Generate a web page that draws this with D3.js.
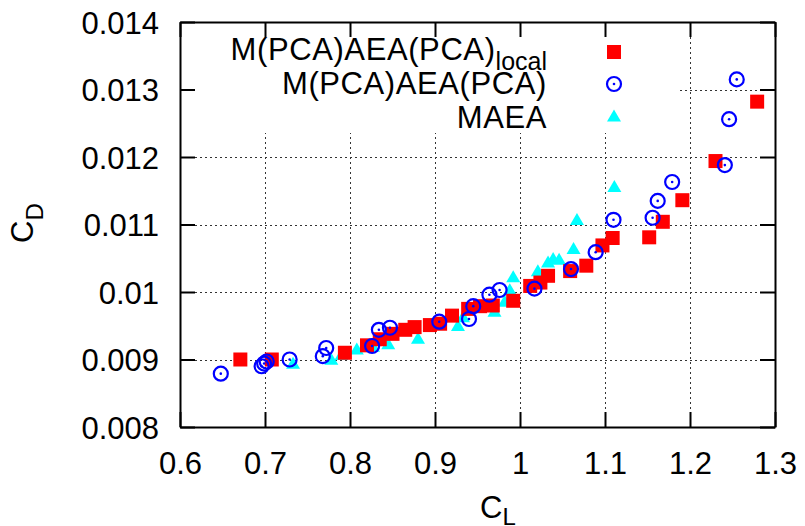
<!DOCTYPE html>
<html>
  <head>
  <title>CD vs CL</title>
  <style>
    body, html {
      margin: 0;
      padding: 0;
      background: #fff;
    }
    svg text {
      font-family: "Liberation Sans", Arial, sans-serif;
      fill: #000;
    }
  </style>
  </head>
  <body>

  <svg id="svg" width="805" height="526"></svg>

  <script src="https://d3js.org/d3.v7.min.js"></script>
  <script>
    // M(PCA)AEA(PCA)_local  (red squares)
    const localCL = [0.671, 0.708, 0.794, 0.820, 0.835, 0.850, 0.865, 0.876, 0.894, 0.906, 0.920, 0.939, 0.953, 0.968, 0.992,
      1.012, 1.024, 1.033, 1.059, 1.078, 1.097, 1.109, 1.152, 1.168, 1.191, 1.230, 1.279]
    const localCD = [0.00900, 0.00900, 0.00910, 0.00921, 0.00930, 0.00938, 0.00944, 0.00948, 0.00951, 0.00953, 0.00965, 0.00975, 0.00979, 0.00980, 0.00987,
      0.01009, 0.01014, 0.01024, 0.01031, 0.01039, 0.01069, 0.01080, 0.01081, 0.01104, 0.01136, 0.01194, 0.01282]

    // M(PCA)AEA(PCA)  (blue circles)
    const pcaCL = [0.648, 0.696, 0.699, 0.702, 0.729, 0.768, 0.772, 0.826, 0.834, 0.847, 0.905, 0.940, 0.945, 0.964, 0.976,
      1.017, 1.060, 1.089, 1.110, 1.156, 1.162, 1.179, 1.241, 1.246, 1.255]
    const pcaCD = [0.00879, 0.00890, 0.00894, 0.00897, 0.00900, 0.00905, 0.00917, 0.00920, 0.00944, 0.00947, 0.00956, 0.00960, 0.00979, 0.00996, 0.01003,
      0.01005, 0.01034, 0.01059, 0.01107, 0.01110, 0.01135, 0.01163, 0.01188, 0.01256, 0.01315]

    // MAEA  (cyan triangles)
    const maeaCL = [0.733, 0.778, 0.790, 0.808, 0.827, 0.845, 0.880, 0.894, 0.927, 0.933, 0.970, 0.982, 0.988, 0.992,
      1.021, 1.033, 1.039, 1.046, 1.063, 1.067, 1.111]
    const maeaCD = [0.00893, 0.00899, 0.00906, 0.00914, 0.00918, 0.00922, 0.00930, 0.00949, 0.00949, 0.00962, 0.00970, 0.00985, 0.01002, 0.01021,
      0.01030, 0.01043, 0.01048, 0.01047, 0.01063, 0.01106, 0.01155]

    const xTicks = [0.6, 0.7, 0.8, 0.9, 1.0, 1.1, 1.2, 1.3]
    const yTicks = [0.008, 0.009, 0.010, 0.011, 0.012, 0.013, 0.014]
    const seriesNames = ['M(PCA)AEA(PCA)', 'M(PCA)AEA(PCA)', 'MAEA']

    const margin = { top: 22, right: 30, bottom: 99, left: 180 }
    const width = 805 - margin.left - margin.right
    const height = 526 - margin.top - margin.bottom

    const xscale = d3.scaleLinear().domain([0.6, 1.3]).range([0, width])
    const yscale = d3.scaleLinear().domain([0.008, 0.014]).range([height, 0])

    const svg = d3.select('#svg')
    const g = svg.append('g').attr('transform', `translate(${margin.left},${margin.top})`)

    // grid
    const grid = g.append('g')
      .attr('stroke', '#333')
      .attr('stroke-width', 1)
      .attr('stroke-dasharray', '2,3')
    grid.selectAll('line.vx')
      .data(xTicks.slice(1, -1))
      .join('line')
      .attr('x1', d => Math.round(xscale(d)) + 0.5)
      .attr('x2', d => Math.round(xscale(d)) + 0.5)
      .attr('y1', 0)
      .attr('y2', height)
    grid.selectAll('line.hy')
      .data(yTicks.slice(1, -1))
      .join('line')
      .attr('x1', 0)
      .attr('x2', width)
      .attr('y1', d => Math.round(yscale(d)) + 0.5)
      .attr('y2', d => Math.round(yscale(d)) + 0.5)

    // opaque key box hides grid behind legend
    g.append('rect')
      .attr('x', 0).attr('y', 0)
      .attr('width', 500).attr('height', 111)
      .attr('fill', '#fff')

    // axes
    const fmt = d => d3.format('')(+d.toFixed(3))
    const tick = 15
    const bottomAxis = d3.axisBottom(xscale).tickValues(xTicks).tickSizeInner(-tick).tickSizeOuter(0).tickPadding(25).tickFormat(fmt)
    const leftAxis = d3.axisLeft(yscale).tickValues(yTicks).tickSizeInner(-tick).tickSizeOuter(0).tickPadding(21).tickFormat(fmt)
    const topAxis = d3.axisTop(xscale).tickValues(xTicks).tickSizeInner(-tick).tickSizeOuter(0).tickFormat('')
    const rightAxis = d3.axisRight(yscale).tickValues(yTicks).tickSizeInner(-tick).tickSizeOuter(0).tickFormat('')

    const axes = [
      g.append('g').attr('transform', `translate(0,${height})`).call(bottomAxis),
      g.append('g').call(leftAxis),
      g.append('g').call(topAxis),
      g.append('g').attr('transform', `translate(${width},0)`).call(rightAxis)
    ]
    axes.forEach(a => {
      a.selectAll('path.domain').attr('stroke', '#000').attr('stroke-width', 2)
      a.selectAll('.tick line').attr('stroke', '#000').attr('stroke-width', 2)
      a.selectAll('.tick text').attr('font-size', 31).attr('font-family', '"Liberation Sans", Arial, sans-serif')
    })
    axes[1].selectAll('.tick text').attr('dy', '0.36em')

    // points
    const sq = 14
    const localData = localCL.map((v, i) => ({ x: v, y: localCD[i] }))
    const pcaData = pcaCL.map((v, i) => ({ x: v, y: pcaCD[i] }))
    const maeaData = maeaCL.map((v, i) => ({ x: v, y: maeaCD[i] }))

    const drawSquare = (sel) => sel.append('rect')
      .attr('width', sq).attr('height', sq)
      .attr('x', -sq / 2).attr('y', -sq / 2)
      .attr('fill', '#ff0000')
    const drawCircle = (sel) => {
      sel.append('circle').attr('r', 7).attr('fill', 'none').attr('stroke', '#0000ff').attr('stroke-width', 2.2)
      sel.append('circle').attr('r', 1.3).attr('fill', '#0000ff')
    }
    const drawTri = (sel) => sel.append('path')
      .attr('d', 'M0,-7.5L7,4.5L-7,4.5Z')
      .attr('fill', '#00ffff')

    g.append('g').selectAll('g')
      .data(maeaData).join('g')
      .attr('transform', d => `translate(${xscale(d.x)},${yscale(d.y)})`)
      .call(drawTri)
    g.append('g').selectAll('g')
      .data(localData).join('g')
      .attr('transform', d => `translate(${xscale(d.x)},${yscale(d.y)})`)
      .call(drawSquare)
    g.append('g').selectAll('g')
      .data(pcaData).join('g')
      .attr('transform', d => `translate(${xscale(d.x)},${yscale(d.y)})`)
      .call(drawCircle)

    // legend
    const keyX = 547 - margin.left
    const markX = 614 - margin.left
    const keyRows = [
      { name: seriesNames[0], sub: 'local', base: 37.5, mark: 30, draw: drawSquare },
      { name: seriesNames[1], sub: null, base: 72, mark: 62, draw: drawCircle },
      { name: seriesNames[2], sub: null, base: 105.5, mark: 95, draw: drawTri }
    ]
    keyRows.forEach(r => {
      const t = g.append('text')
        .attr('x', keyX).attr('y', r.base)
        .attr('text-anchor', 'end')
        .attr('font-size', 31)
        .attr('letter-spacing', 0.6)
      t.append('tspan').text(r.name)
      if (r.sub) t.append('tspan').attr('font-size', 25).attr('letter-spacing', 0).attr('dy', 10.5).text(r.sub)
      g.append('g').attr('transform', `translate(${markX},${r.mark})`).call(r.draw)
    })

    // axis titles
    const xt = svg.append('text').attr('x', 480).attr('y', 517.5).attr('font-size', 31)
    xt.append('tspan').text('C')
    xt.append('tspan').attr('font-size', 24).attr('dy', 7).text('L')

    const yt = svg.append('text').attr('transform', 'translate(33,243) rotate(-90)').attr('font-size', 31)
    yt.append('tspan').text('C')
    yt.append('tspan').attr('font-size', 24).attr('dy', 10).text('D')
  </script>
  </body>
</html>
